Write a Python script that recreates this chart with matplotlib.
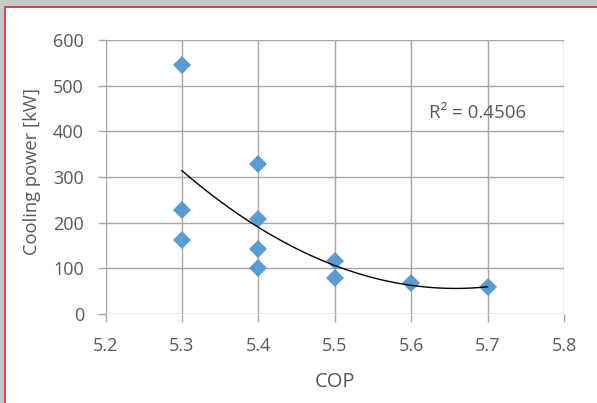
import numpy as np
import matplotlib
matplotlib.use("Agg")
import matplotlib.pyplot as plt
from matplotlib.patches import Rectangle

plt.rcParams['font.family'] = ['Open Sans', 'DejaVu Sans']

cop = [5.3, 5.3, 5.3, 5.4, 5.4, 5.4, 5.4, 5.5, 5.5, 5.6, 5.7]
power = [545, 227, 163, 329, 207, 142, 101, 115, 79, 68, 60]
xticks = [5.2, 5.3, 5.4, 5.5, 5.6, 5.7, 5.8]
yticks = [0, 100, 200, 300, 400, 500, 600]
r2_label = "R² = 0.4506"

txt = '#595959'
gridc = '#A6A6A6'

fig = plt.figure(figsize=(5.97, 4.03), dpi=100)
fig.patch.set_facecolor('white')
# window frame
fig.patches.append(Rectangle((0, 1 - 6/403), 1, 6/403, transform=fig.transFigure,
                             facecolor='#C8C8C8', edgecolor='none', zorder=0))
fig.patches.append(Rectangle((0, 0), 4/597, 1, transform=fig.transFigure,
                             facecolor='#C8C8C8', edgecolor='none', zorder=0))
fig.patches.append(Rectangle((4/597, 1 - 8/403), 1, 2/403, transform=fig.transFigure,
                             facecolor='#D9474B', edgecolor='none', zorder=1))
fig.patches.append(Rectangle((4/597, 0), 2/597, 1 - 6/403, transform=fig.transFigure,
                             facecolor='#D9474B', edgecolor='none', zorder=1))

ax = fig.add_axes([105.5/597, 1 - 314/403, (564 - 105.5)/597, (314 - 40)/403])
ax.set_xlim(5.2, 5.8)
ax.set_ylim(0, 600)
ax.set_xticks(xticks)
ax.set_yticks(yticks)
ax.set_xticklabels([f"{v:.1f}" for v in xticks])
ax.set_yticklabels([str(v) for v in yticks])
ax.grid(True, color=gridc, linewidth=1.0)
ax.set_axisbelow(True)
for s in ax.spines.values():
    s.set_visible(False)
ax.tick_params(axis='both', colors=gridc, labelcolor=txt, labelsize=13,
               length=6, width=1.0, direction='out')
ax.tick_params(axis='x', pad=10.5)
ax.tick_params(axis='y', pad=9.5)

ax.plot(cop, power, linestyle='none', marker='D', markersize=9.5,
        color='#5B9BD5', markeredgewidth=0, zorder=3)

coef = np.polyfit(cop, power, 2)
xs = np.linspace(min(cop), max(cop), 200)
ax.plot(xs, np.polyval(coef, xs), color='black', linewidth=1.0, zorder=4)

ax.text(5.623, 440, r2_label, fontsize=13.5, color=txt, va='center', ha='left')

ax.set_xlabel('COP', fontsize=14.5, color=txt, labelpad=12)
ax.set_ylabel('Cooling power [kW]', fontsize=13.2, color=txt)
ax.yaxis.set_label_coords(-0.14, 0.52)

fig.savefig('out.png', dpi=100, facecolor='white')
